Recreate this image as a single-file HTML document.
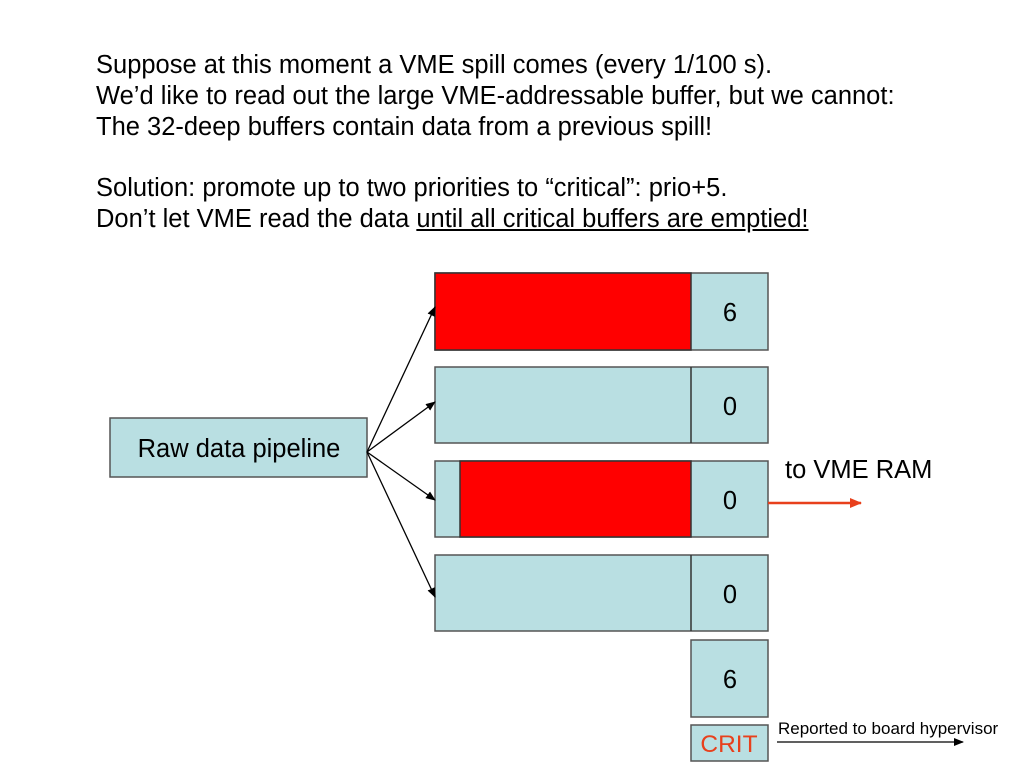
<!DOCTYPE html>
<html><head><meta charset="utf-8"><style>
body{margin:0;width:1024px;height:768px;background:#fff;position:relative;overflow:hidden;font-family:"Liberation Sans",sans-serif}
.t{position:absolute;left:96px;font-size:25.5px;color:#000;white-space:nowrap;line-height:31px}
</style></head><body>
<div class="t" style="top:50px">Suppose at this moment a VME spill comes (every 1/100 s).</div>
<div class="t" style="top:81px">We’d like to read out the large VME-addressable buffer, but we cannot:</div>
<div class="t" style="top:112px">The 32-deep buffers contain data from a previous spill!</div>
<div class="t" style="top:173px">Solution: promote up to two priorities to “critical”: prio+5.</div>
<div class="t" style="top:204px">Don’t let VME read the data <u>until all critical buffers are emptied!</u></div>
<svg width="1024" height="768" style="position:absolute;left:0;top:0" font-family="Liberation Sans, sans-serif">
<defs>
<marker id="a" markerWidth="10" markerHeight="8" refX="9" refY="4" orient="auto" markerUnits="userSpaceOnUse"><path d="M0,0L10,4L0,8z" fill="#000"/></marker>
<marker id="o" markerWidth="12" markerHeight="10" refX="11" refY="5" orient="auto" markerUnits="userSpaceOnUse"><path d="M0,0L12,5L0,10z" fill="#e8401c"/></marker>
</defs>
<g stroke="#555" stroke-width="1.5">
<rect x="110" y="418" width="257" height="59" fill="#b9dfe2"/>
<rect x="435" y="273" width="333" height="77" fill="#b9dfe2"/>
<rect x="435" y="273" width="256" height="77" fill="#ff0000" stroke="#333"/>
<rect x="435" y="367" width="333" height="76" fill="#b9dfe2"/>
<line x1="691" y1="367" x2="691" y2="443" stroke="#333"/>
<rect x="435" y="461" width="333" height="76" fill="#b9dfe2"/>
<rect x="460" y="461" width="231" height="76" fill="#ff0000" stroke="#333"/>
<rect x="435" y="555" width="333" height="76" fill="#b9dfe2"/>
<line x1="691" y1="555" x2="691" y2="631" stroke="#333"/>
<rect x="691" y="640" width="77" height="77" fill="#b9dfe2"/>
<rect x="691" y="725" width="77" height="36" fill="#b9dfe2"/>
</g>
<text x="239" y="457" font-size="25.5" text-anchor="middle">Raw data pipeline</text>
<g font-size="25.5" text-anchor="middle">
<text x="730" y="321">6</text><text x="730" y="415">0</text><text x="730" y="509">0</text><text x="730" y="603">0</text><text x="730" y="688">6</text>
</g>
<text x="729" y="752" font-size="24.5" text-anchor="middle" fill="#e8401c">CRIT</text>
<g stroke="#000" stroke-width="1.3" marker-end="url(#a)">
<line x1="367" y1="452" x2="435" y2="307"/>
<line x1="367" y1="452" x2="435" y2="402"/>
<line x1="367" y1="452" x2="435" y2="500"/>
<line x1="367" y1="452" x2="435" y2="597"/>
<line x1="777" y1="742" x2="963" y2="742"/>
</g>
<line x1="768" y1="503" x2="861" y2="503" stroke="#e8401c" stroke-width="2.5" marker-end="url(#o)"/>
<text x="785" y="478" font-size="25.5">to VME RAM</text>
<text x="778" y="734" font-size="17">Reported to board hypervisor</text>
</svg>
</body></html>
